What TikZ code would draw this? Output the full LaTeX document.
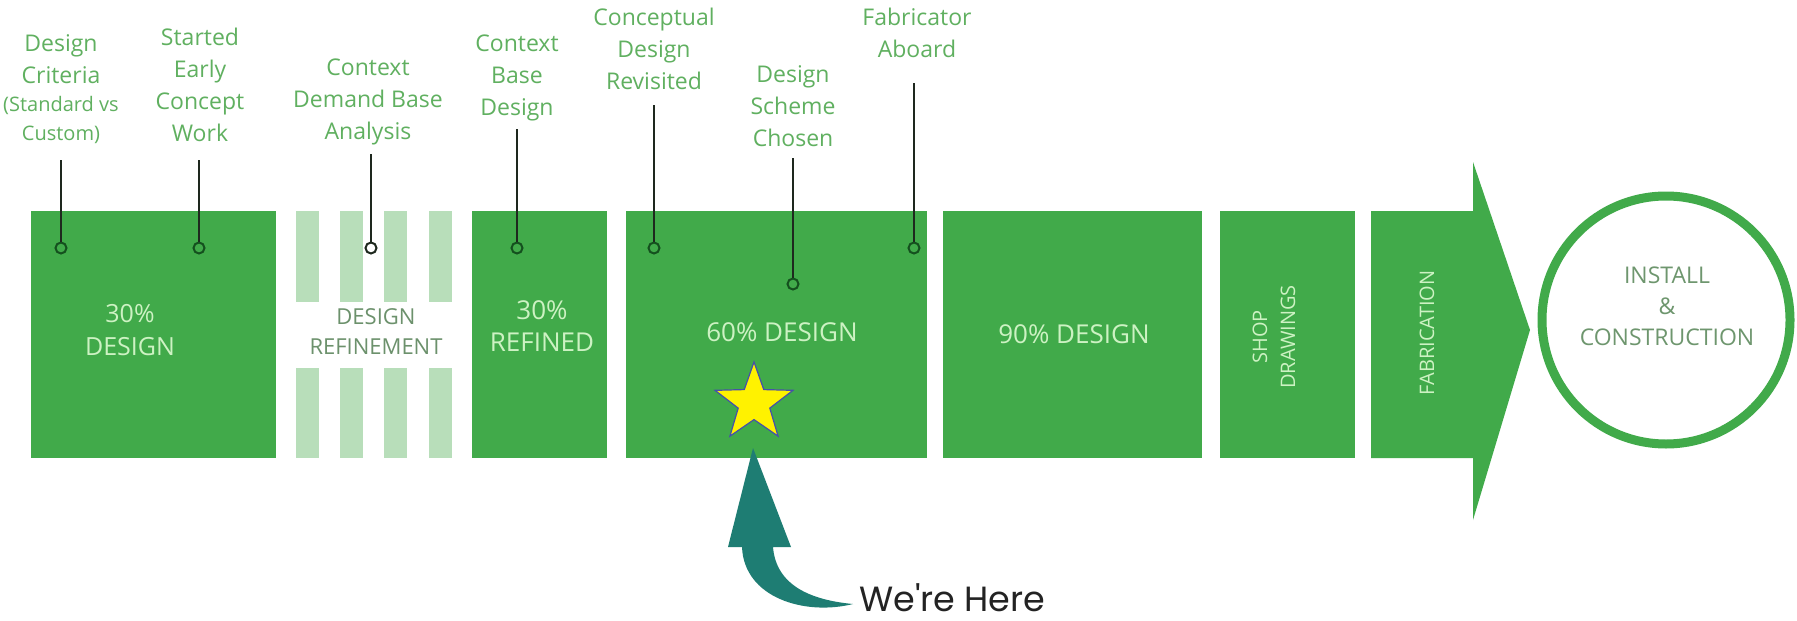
\documentclass[tikz,border=0pt]{standalone}
\usepackage{fontspec}
\setmainfont{Open Sans}
\newfontfamily\herefont{Poppins}
\usetikzlibrary{shapes.geometric}
\definecolor{boxgreen}{RGB}{65,170,74}
\definecolor{stripegreen}{RGB}{184,222,186}
\definecolor{lblgreen}{RGB}{96,176,96}
\definecolor{boxtext}{RGB}{205,242,195}
\definecolor{reftext}{RGB}{108,145,108}
\definecolor{circtext}{RGB}{110,150,110}
\definecolor{leadercol}{RGB}{30,40,30}
\definecolor{dotcol}{RGB}{20,80,30}
\definecolor{tealarrow}{RGB}{30,125,115}
\definecolor{starblue}{RGB}{70,80,170}
\definecolor{herecol}{RGB}{35,35,35}
\begin{document}
\begin{tikzpicture}[x=1pt,y=-1pt,
  box/.style={rectangle, fill=boxgreen, draw=none, inner sep=0pt},
  stripe/.style={rectangle, fill=stripegreen, draw=none, inner sep=0pt, minimum width=23pt},
  lbl/.style={text=lblgreen, font=\fontsize{23}{32}\selectfont, align=center, anchor=base, inner sep=0pt},
  boxtxt/.style={text=boxtext, align=center, anchor=base, inner sep=0pt},
  reftxt/.style={text=reftext, font=\fontsize{22}{30}\selectfont, align=center, anchor=base, inner sep=0pt},
  leader/.style={draw=leadercol, line width=2pt},
  dot/.style={circle, draw=dotcol, line width=2pt, fill=boxgreen, minimum size=11pt, inner sep=0pt},
  hollowdot/.style={dot, draw=leadercol, fill=white}
]
\fill[white] (0,0) rectangle (1797,621);
\useasboundingbox (0,0) rectangle (1797,621);

% boxes
\node[box, minimum width=245pt, minimum height=247pt] (b1) at (153.5,334.5) {};
\foreach \i/\xc in {1/307.5, 2/351.5, 3/395.5, 4/440} {
  \node[stripe, minimum height=91pt] (su\i) at (\xc,256.5) {};
  \node[stripe, minimum height=90pt] (sl\i) at (\xc,413) {};
}
\node[box, minimum width=135pt, minimum height=247pt] (b3) at (539.5,334.5) {};
\node[box, minimum width=301pt, minimum height=247pt] (b4) at (776.5,334.5) {};
\node[box, minimum width=259pt, minimum height=247pt] (b5) at (1072.5,334.5) {};
\node[box, minimum width=135pt, minimum height=247pt] (b6) at (1287.5,334.5) {};
\fill[boxgreen] (1371,211) -- (1473,211) -- (1473,162) -- (1530,330) -- (1473,520) -- (1473,458) -- (1371,458) -- cycle;
\node[circle, draw=boxgreen, line width=9pt, minimum size=248pt, inner sep=0pt] (c) at (1666,320) {};

% box texts
\node[boxtxt, font=\fontsize{25}{33}\selectfont] (tx1) at (130,355) {30\%\\DESIGN};
\node[reftxt] (tx2) at (376,354) {DESIGN\\REFINEMENT};
\node[boxtxt, font=\fontsize{26}{32}\selectfont] (tx3) at (542,351) {30\%\\REFINED};
\node[boxtxt, font=\fontsize{26}{32}\selectfont] (tx4) at (782,341) {60\% DESIGN};
\node[boxtxt, font=\fontsize{26}{32}\selectfont] (tx5) at (1074,343) {90\% DESIGN};
\node[boxtxt, font=\fontsize{20}{28}\selectfont, anchor=center, rotate=90] (tx6) at (1274,337) {SHOP\\DRAWINGS};
\node[boxtxt, font=\fontsize{20}{28}\selectfont, anchor=center, rotate=90] (tx7) at (1427,333) {FABRICATION};
\node[text=circtext, font=\fontsize{23}{31}\selectfont, align=center, anchor=base, inner sep=0pt] (tx8) at (1667,345) {INSTALL\\\&\\CONSTRUCTION};

% labels (anchor=base is the baseline of the last line)
\node[lbl] (l1) at (61,83) {Design\\Criteria};
\node[lbl, font=\fontsize{20}{29}\selectfont] (l1b) at (61,140) {(Standard vs\\Custom)};
\node[lbl] (l2) at (200,141) {Started\\Early\\Concept\\Work};
\node[lbl] (l3) at (368,139) {Context\\Demand Base\\Analysis};
\node[lbl] (l4) at (517,115) {Context\\Base\\Design};
\node[lbl] (l5) at (654,89) {Conceptual\\Design\\Revisited};
\node[lbl] (l6) at (793,146) {Design\\Scheme\\Chosen};
\node[lbl] (l7) at (917,57) {Fabricator\\Aboard};

% leader lines
\coordinate (t1) at (61,160);  \node[dot] (d1) at (61,248) {};
\coordinate (t2) at (199,160); \node[dot] (d2) at (199,248) {};
\coordinate (t3) at (371,154); \node[hollowdot] (d3) at (371,248) {};
\coordinate (t4) at (517,129); \node[dot] (d4) at (517,248) {};
\coordinate (t5) at (654,105); \node[dot] (d5) at (654,248) {};
\coordinate (t6) at (793,158); \node[dot] (d6) at (793,284) {};
\coordinate (t7) at (914,83);  \node[dot] (d7) at (914,248) {};
\foreach \i in {1,...,7} { \draw[leader] (t\i) -- (d\i); }

% star
\node[star, star points=5, star point ratio=2.47, fill=yellow, draw=starblue, line width=1.2pt, minimum size=82pt, inner sep=0pt] (star) at (754,403) {};

% we're here arrow
\fill[tealarrow] (753,448) -- (791,547) -- (773,547) .. controls (776,585) and (810,600) .. (853,604) .. controls (805,616) and (744,598) .. (742,547) -- (728,547) -- cycle;
\node[text=herecol, font=\herefont\fontsize{35}{38}\selectfont, anchor=base west, inner sep=0pt, text depth=0pt] (here) at (859,611) {We're Here};
\end{tikzpicture}
\end{document}
